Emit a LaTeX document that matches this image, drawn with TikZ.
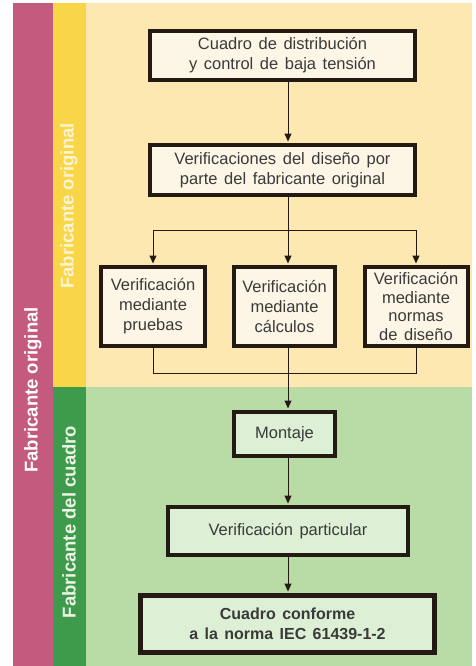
\documentclass[tikz,border=0pt]{standalone}
\usepackage{fontspec}
\setmainfont{Liberation Sans}
\usetikzlibrary{arrows.meta,calc,positioning}
\definecolor{fink}{HTML}{231A14}
\definecolor{ftext}{HTML}{3A3A3A}
\definecolor{fmag}{HTML}{C45A7E}
\definecolor{fyel}{HTML}{F9D548}
\definecolor{fyelbg}{HTML}{FDE8B2}
\definecolor{fgrn}{HTML}{3E9B4C}
\definecolor{fgrnbg}{HTML}{B9DCA7}
\definecolor{fbox}{HTML}{FDF6E6}
\definecolor{fboxg}{HTML}{DDEFD4}

\begin{document}
\begin{tikzpicture}[x=1pt,y=-1pt,
  font=\fontsize{16.5}{20}\selectfont,
  box/.style={draw=fink,line width=4pt,fill=fbox,text=ftext,align=center,inner sep=1pt,
              execute at begin node={\spaceskip=0.4em plus 0.1em\relax}},
  boxg/.style={box,fill=fboxg},
  tag/.style={rotate=90,inner sep=0pt,font=\fontsize{18.5}{20}\selectfont\bfseries},
  arr/.style={-{Triangle[length=8pt,width=7pt]},line width=1pt,fink,shorten >=1.5pt},
  lnk/.style={line width=1pt,fink}]
\useasboundingbox (0,0) rectangle (475,666);
% bands
\fill[fyelbg] (86,3) rectangle (472,387);
\fill[fgrnbg] (86,387) rectangle (472,666);
\fill[fmag] (13,3) rectangle (53,666);
\fill[fyel] (53,3) rectangle (86,387);
\fill[fgrn] (53,387) rectangle (86,666);
\node[tag,text=white] (tmag) at (33,390) {Fabricante original};
\node[tag,text=white!75!fyel] (tyel) at (69,206) {Fabricante original};
\node[tag,text=white!70!fgrnbg] (tgrn) at (69,522) {Fabricante del cuadro};
% boxes
\node[box,minimum width=265pt,minimum height=49pt] (cuadro) at (282.5,55.5) {Cuadro de distribución\\y control de baja tensión};
\node[box,minimum width=265pt,minimum height=50pt] (disenio) at (282.5,170) {Verificaciones del diseño por\\parte del fabricante original};
\node[box,minimum width=104pt,minimum height=79pt] (pruebas) at (153,306.5) {Verificación\\mediante\\pruebas};
\node[box,minimum width=101pt,minimum height=79pt] (calculos) at (284.5,306.5) {Verificación\\mediante\\cálculos};
\node[box,minimum width=103pt,minimum height=79pt,font=\fontsize{16.5}{18.5}\selectfont] (normas) at (416,306.5) {Verificación\\mediante\\normas\\de diseño};
\node[boxg,minimum width=101pt,minimum height=44pt] (montaje) at (284.5,434) {Montaje};
\node[boxg,minimum width=240pt,minimum height=48pt] (particular) at (288,531) {Verificación particular};
\node[boxg,line width=5pt,minimum width=294pt,minimum height=57pt,
      font=\fontsize{16}{19.5}\selectfont\bfseries] (conforme) at (287.5,624) {Cuadro conforme\\a la norma IEC 61439-1-2};
% connectors
\coordinate (eje) at (288,0);
\coordinate (reparto) at (288,230);
\coordinate (union) at (288,373);
\draw[arr] (cuadro.south -| eje) -- (disenio.north -| eje);
\draw[lnk] (disenio.south -| eje) -- (reparto);
\draw[lnk] (reparto -| pruebas) -- (reparto -| normas);
\draw[arr] (reparto -| pruebas) -- (pruebas.north);
\draw[arr] (reparto) -- (calculos.north -| eje);
\draw[arr] (reparto -| normas) -- (normas.north);
\draw[lnk] (pruebas.south) -- (union -| pruebas) -- (union -| normas) -- (normas.south);
\draw[lnk] (calculos.south -| eje) -- (union);
\draw[arr] (union) -- (montaje.north -| eje);
\draw[arr] (montaje.south -| eje) -- (particular.north);
\draw[arr] (particular.south) -- (conforme.north -| eje);
\end{tikzpicture}
\end{document}
